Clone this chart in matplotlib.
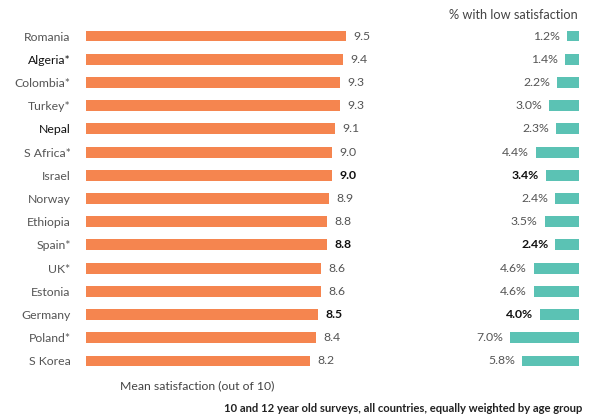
import matplotlib
matplotlib.use("Agg")
import numpy as np
import matplotlib.pyplot as plt

plt.rcParams['font.family'] = ['Lato', 'DejaVu Sans']

countries = ["Romania", "Algeria*", "Colombia*", "Turkey*", "Nepal", "S Africa*",
             "Israel", "Norway", "Ethiopia", "Spain*", "UK*", "Estonia",
             "Germany", "Poland*", "S Korea"]
mean_sat = [9.5, 9.4, 9.3, 9.3, 9.1, 9.0, 9.0, 8.9, 8.8, 8.8, 8.6, 8.6, 8.5, 8.4, 8.2]
low_sat = [1.2, 1.4, 2.2, 3.0, 2.3, 4.4, 3.4, 2.4, 3.5, 2.4, 4.6, 4.6, 4.0, 7.0, 5.8]
bold_rows = ["Israel", "Spain*", "Germany"]
dark_names = ["Algeria*", "Nepal"]

orange = '#F5854F'
teal = '#5BC2B4'
fs = 8.8

fig = plt.figure(figsize=(5.97, 4.16), dpi=100)
W, H = 597, 416
top_px, bot_px = 24.4, 372.6

# left panel: mean satisfaction
left_px, left_w = 86, 27.35 * 10.5
ax1 = fig.add_axes([left_px / W, 1 - bot_px / H, left_w / W, (bot_px - top_px) / H])
y = np.arange(len(countries))
ax1.barh(y, mean_sat, height=0.47, color=orange)
ax1.set_xlim(0, 10.5)
ax1.set_ylim(len(countries) - 0.5, -0.5)
for i, (c, v) in enumerate(zip(countries, mean_sat)):
    bold = c in bold_rows
    ax1.text(v + 0.27, i, f"{v:.1f}", va='center', ha='left', fontsize=fs,
             color='#111111' if bold else '#555555',
             fontweight='bold' if bold else 'normal')
ax1.set_yticks(y)
ax1.set_yticklabels(countries, fontsize=fs)
for lab in ax1.get_yticklabels():
    if lab.get_text() in dark_names:
        lab.set_color('#111111')
    else:
        lab.set_color('#555555')
ax1.tick_params(axis='y', length=0, pad=11)
ax1.set_xticks([])
for s in ax1.spines.values():
    s.set_visible(False)
ax1.text(4.06, 15.05, "Mean satisfaction (out of 10)", ha='center', va='center',
         fontsize=fs, color='#444444')

# right panel: % with low satisfaction
right_px, px_per = 579, 9.85
right_w = px_per * 8
ax2 = fig.add_axes([(right_px - right_w) / W, 1 - bot_px / H, right_w / W, (bot_px - top_px) / H])
ax2.barh(y, low_sat, height=0.47, color=teal)
ax2.set_xlim(8, 0)
ax2.set_ylim(len(countries) - 0.5, -0.5)
for i, (c, v) in enumerate(zip(countries, low_sat)):
    bold = c in bold_rows
    ax2.text(v + 0.7, i, f"{v:.1f}%", va='center', ha='right', fontsize=fs,
             color='#111111' if bold else '#555555',
             fontweight='bold' if bold else 'normal')
ax2.set_xticks([])
ax2.set_yticks([])
for s in ax2.spines.values():
    s.set_visible(False)

fig.text(578 / W, 1 - 15 / H, "% with low satisfaction", ha='right', va='center',
         fontsize=9.2, color='#444444')
fig.text(582 / W, 1 - 408 / H,
         "10 and 12 year old surveys, all countries, equally weighted by age group",
         ha='right', va='center', fontsize=8.1, fontweight='bold', color='#222222')

fig.savefig('out.png', dpi=100)
